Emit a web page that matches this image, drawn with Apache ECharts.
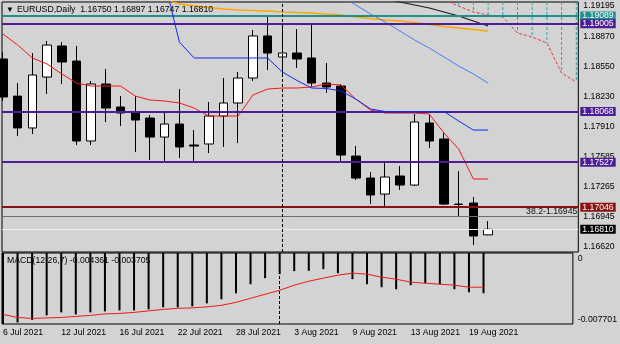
<!DOCTYPE html>
<html>
<head>
<meta charset="utf-8">
<script src="https://cdn.jsdelivr.net/npm/echarts@6.0.0/dist/echarts.min.js"></script>
<style>
html,body{margin:0;padding:0;background:#d3d3d3;}
#chart{width:620px;height:344px;}
</style>
</head>
<body>
<div id="chart"></div>
<script>
const symbolName = 'EURUSD';
const timeframe = 'Daily';
const dates = ['6 Jul 2021','7 Jul 2021','8 Jul 2021','9 Jul 2021','12 Jul 2021','13 Jul 2021','14 Jul 2021','15 Jul 2021','16 Jul 2021','19 Jul 2021','20 Jul 2021','21 Jul 2021','22 Jul 2021','23 Jul 2021','26 Jul 2021','27 Jul 2021','28 Jul 2021','29 Jul 2021','30 Jul 2021','2 Aug 2021','3 Aug 2021','4 Aug 2021','5 Aug 2021','6 Aug 2021','9 Aug 2021','10 Aug 2021','11 Aug 2021','12 Aug 2021','13 Aug 2021','16 Aug 2021','17 Aug 2021','18 Aug 2021','19 Aug 2021','20 Aug 2021','23 Aug 2021','24 Aug 2021','25 Aug 2021','26 Aug 2021','27 Aug 2021','30 Aug 2021'];

const openP  = [1.18629,1.18233,1.17892,1.18436,1.18768,1.18607,1.17753,1.18362,1.18116,1.18063,1.17998,1.17795,1.17934,1.17710,1.17721,1.18020,1.18159,1.18426,1.18875,1.18650,1.18693,1.18640,1.18372,1.18340,1.17592,1.17357,1.17186,1.17379,1.17282,1.17945,1.17774,1.17079,1.17090,1.16750];
const closeP = [1.18223,1.17892,1.18458,1.18778,1.18597,1.17753,1.18362,1.18105,1.18052,1.17977,1.17795,1.17934,1.17689,1.17699,1.18020,1.18159,1.18426,1.18875,1.18693,1.18693,1.18629,1.18372,1.18330,1.17603,1.17357,1.17176,1.17368,1.17282,1.17956,1.17753,1.17079,1.17075,1.16738,1.16810];
const highP  = [1.18700,1.18372,1.18693,1.18821,1.18810,1.18768,1.18394,1.18522,1.18233,1.18233,1.18030,1.18063,1.18308,1.17870,1.18169,1.18426,1.18490,1.18939,1.19088,1.18992,1.18949,1.19013,1.18586,1.18362,1.17699,1.17421,1.17518,1.17485,1.18041,1.18030,1.17838,1.17432,1.17154,1.16897];
const lowP   = [1.18180,1.17806,1.17827,1.18255,1.18362,1.17710,1.17710,1.17956,1.17913,1.17635,1.17550,1.17528,1.17571,1.17528,1.17624,1.17689,1.17731,1.18394,1.18511,1.18458,1.18533,1.18330,1.18266,1.17528,1.17336,1.17079,1.17047,1.17229,1.17272,1.17678,1.17069,1.16941,1.16641,1.16747];

const tenkan = [1.18896,1.18778,1.18640,1.18575,1.18469,1.18372,1.18340,1.18340,1.18340,1.18233,1.18191,1.18180,1.18159,1.18105,1.18020,1.18020,1.18020,1.18244,1.18308,1.18319,1.18319,1.18330,1.18362,1.18351,1.18201,1.18084,1.18052,1.18052,1.18052,1.18041,1.17838,1.17667,1.17347,1.17347];
const kijun  = [null,null,null,null,null,null,null,null,null,null,null,1.19452,1.18810,1.18640,1.18640,1.18640,1.18640,1.18640,1.18640,1.18490,1.18399,1.18319,1.18314,1.18287,1.18201,1.18095,1.18068,1.18068,1.18068,1.18068,1.18068,1.17966,1.17870,1.17870];
const maBlue   = [null,null,null,null,null,null,null,null,null,null,null,null,null,null,null,null,null,null,null,null,null,null,null,1.19302,1.19206,1.19110,1.19024,1.18928,1.18832,1.18746,1.18650,1.18554,1.18469,1.18372];
const maOrange = [null,null,null,null,null,null,null,null,null,null,null,1.19270,1.19216,1.19195,1.19179,1.19163,1.19152,1.19147,1.19142,1.19131,1.19126,1.19120,1.19110,1.19099,1.19078,1.19062,1.19046,1.19035,1.19019,1.18997,1.18976,1.18960,1.18944,1.18928];
const maBlack  = [null,null,null,null,null,null,null,null,null,null,null,null,null,null,null,null,null,null,null,null,null,null,null,null,null,null,1.19270,1.19238,1.19206,1.19174,1.19131,1.19088,1.19035,1.18981];
const senkouB  = [null,null,null,null,null,null,null,null,null,null,null,null,null,null,null,null,null,null,null,null,null,null,null,null,null,null,null,null,null,null,1.19259,1.19195,1.19131,1.19099,1.19078,1.18907,1.18864,1.18800,1.18479,1.18383];
const senkouA  = [null,null,null,null,null,null,null,null,null,null,null,null,null,null,null,null,null,null,null,null,null,null,null,null,null,null,null,null,null,null,null,1.19300,1.19300,1.19300,1.19300,1.19300,1.19300,1.19300,1.19300,1.19300];

const macdMain   = [-0.007701,-0.007535,-0.007262,-0.006770,-0.006443,-0.006661,-0.006443,-0.006334,-0.006224,-0.006224,-0.006115,-0.005897,-0.005897,-0.005788,-0.005460,-0.005023,-0.004368,-0.003385,-0.002730,-0.002293,-0.001966,-0.001933,-0.001747,-0.002184,-0.002839,-0.003385,-0.003713,-0.003931,-0.003494,-0.003276,-0.003385,-0.003931,-0.004260,-0.004361];
const macdSignal = [-0.006661,-0.006989,-0.007098,-0.007043,-0.006989,-0.006880,-0.006770,-0.006607,-0.006552,-0.006443,-0.006279,-0.006115,-0.006006,-0.005951,-0.005842,-0.005678,-0.005351,-0.004914,-0.004477,-0.004040,-0.003494,-0.003058,-0.002730,-0.002402,-0.002184,-0.002293,-0.002621,-0.002839,-0.003167,-0.003276,-0.003385,-0.003494,-0.003713,-0.003705];
const macdParams = [12, 26, 7];

const priceTicks = [1.16620,1.16945,1.17265,1.17585,1.17910,1.18230,1.18550,1.18870,1.19195];
const priceRange = [1.16567, 1.19238];
const macdTicks = [-0.007701, 0];
const levelPrices = [1.19089, 1.19005, 1.18068, 1.17527, 1.17046];
const levelKinds = ['teal','indigo','indigo','indigo','maroon'];
const fibRatio = ['38.2'];
const fibPrice = [1.16945];
const vlineDate = '2 Aug 2021';
const labelEvery = 4;

const FONT = '"Liberation Sans", Arial, sans-serif';
const FS = 8.7;
const levelColors = {teal:'#1f8f8f', indigo:'#4c1d95', maroon:'#8a1212'};
const nBars = openP.length;
const last = nBars - 1;
const xExtent = [-0.068, 39.136];
const vIdx = dates.indexOf(vlineDate);
const pts = arr => arr.map((v, i) => v == null ? null : [i, v]).filter(Boolean);
const dateLabelIdx = dates.map((d, i) => i).filter(i => i % labelEvery === 0 && i < nBars);

const boxLabel = (txt, bg) => ({
  show: true, position: 'end', distance: 2, formatter: txt,
  backgroundColor: bg, color: '#fff', padding: [1, 2, 0, 2], lineHeight: 8,
  fontSize: FS, fontFamily: FONT
});

const markBase = {silent: true, symbol: ['none', 'none'], animation: false, precision: 6};

const levelLines = levelPrices.map((p, k) => ({
  yAxis: p,
  lineStyle: {color: levelColors[levelKinds[k]], width: 2, type: 'solid'},
  label: boxLabel(p.toFixed(5), levelColors[levelKinds[k]])
}));
const fibLine = {
  yAxis: fibPrice[0],
  lineStyle: {color: '#6e6e6e', width: 1, type: 'solid'},
  label: {show: true, position: 'insideEndTop', distance: 1,
    formatter: fibRatio[0] + '-' + fibPrice[0].toFixed(5), color: '#111', fontSize: FS, fontFamily: FONT}
};
const bidLine = {
  yAxis: closeP[last],
  lineStyle: {color: '#efefef', width: 1, type: 'solid'},
  label: boxLabel(closeP[last].toFixed(5), '#000')
};
const vLine = {xAxis: vIdx, lineStyle: {color: '#000', width: 1, type: [3, 2]}, label: {show: false}};

function lineSeries(arr, color, width, dash, z) {
  return {type: 'line', xAxisIndex: 0, yAxisIndex: 0, data: pts(arr), symbol: 'none',
    showSymbol: false, silent: true, z: z || 3,
    lineStyle: {color: color, width: width, type: dash || 'solid'}};
}

const titleText = symbolName + ',' + timeframe + '  ' + openP[last].toFixed(5) + ' ' +
  highP[last].toFixed(5) + ' ' + lowP[last].toFixed(5) + ' ' + closeP[last].toFixed(5);
const macdText = 'MACD(' + macdParams.join(',') + ') ' + macdMain[last].toFixed(6) + ' ' + macdSignal[last].toFixed(6);

const hatchData = senkouA.map((a, i) => (a == null || senkouB[i] == null) ? null : [i, a, senkouB[i]]).filter(Boolean);

const chart = echarts.init(document.getElementById('chart'), null, {renderer: 'canvas'});
chart.setOption({
  animation: false,
  backgroundColor: '#d3d3d3',
  textStyle: {fontFamily: FONT},
  grid: [
    {left: 2, top: 2, width: 576.3, height: 250, show: true, borderColor: '#000', borderWidth: 1, backgroundColor: 'transparent'},
    {left: 2, top: 253, width: 576.3, height: 71, show: true, borderColor: '#000', borderWidth: 1, backgroundColor: 'transparent'}
  ],
  xAxis: [
    {type: 'value', gridIndex: 0, min: xExtent[0], max: xExtent[1], show: false},
    {type: 'value', gridIndex: 1, min: xExtent[0], max: xExtent[1],
      axisLine: {show: false}, splitLine: {show: false},
      axisTick: {show: true, length: 3, customValues: dateLabelIdx, lineStyle: {color: '#000'}},
      axisLabel: {customValues: dateLabelIdx, formatter: v => dates[Math.round(v)], align: 'left',
        margin: 4, color: '#000', fontSize: FS, fontFamily: FONT}}
  ],
  yAxis: [
    {type: 'value', gridIndex: 0, position: 'right', min: priceRange[0], max: priceRange[1],
      axisLine: {show: false}, splitLine: {show: false}, axisTick: {show: false},
      axisLabel: {customValues: priceTicks, formatter: v => v.toFixed(5), margin: 5,
        color: '#000', fontSize: FS, fontFamily: FONT}},
    {type: 'value', gridIndex: 1, position: 'right', min: macdTicks[0], max: macdTicks[1],
      axisLine: {show: false}, splitLine: {show: false}, axisTick: {show: false},
      axisLabel: {customValues: macdTicks, margin: 5, color: '#000',
        formatter: v => v === 0 ? '{t|0}' : '{b|' + v.toFixed(6) + '}',
        rich: {
          t: {padding: [11, 0, 0, 0], fontSize: FS, fontFamily: FONT, color: '#000'},
          b: {padding: [0, 0, 9, 0], fontSize: FS, fontFamily: FONT, color: '#000'}
        }}}
  ],
  graphic: [
    {type: 'text', left: 6, top: 6, z: 10, style: {text: '▼', font: '8px ' + FONT, fill: '#000'}},
    {type: 'text', left: 17, top: 5, z: 10, style: {text: titleText, font: FS + 'px ' + FONT, fill: '#000'}},
    {type: 'text', left: 7, top: 256, z: 0, style: {text: macdText, font: FS + 'px ' + FONT, fill: '#000'}}
  ],
  series: [
    {type: 'line', xAxisIndex: 0, yAxisIndex: 0, z: 1, silent: true,
      data: pts(closeP), symbol: 'none', showSymbol: false, lineStyle: {opacity: 0},
      markLine: Object.assign({}, markBase, {data: [fibLine, ...levelLines, bidLine, vLine]})},
    {type: 'candlestick', xAxisIndex: 0, yAxisIndex: 0, z: 2, barWidth: 9, silent: true,
      data: openP.map((o, i) => [i, o, closeP[i], lowP[i], highP[i]]),
      encode: {x: 0, y: [1, 2, 3, 4]},
      itemStyle: {color: '#ffffff', color0: '#000000', borderColor: '#000000', borderColor0: '#000000',
        borderColorDoji: '#000000', borderWidth: 1}},
    {type: 'custom', xAxisIndex: 0, yAxisIndex: 0, z: 3, silent: true,
      data: hatchData, encode: {x: 0, y: [1, 2]},
      renderItem: function (params, api) {
        const x = api.value(0);
        const a = api.coord([x, api.value(1)]);
        const b = api.coord([x, api.value(2)]);
        const top = params.coordSys.y;
        return {type: 'line', shape: {x1: a[0], y1: Math.max(a[1], top), x2: b[0], y2: b[1]},
          style: {stroke: '#2aa5a5', lineWidth: 1, lineDash: [3, 2]}};
      }},
    lineSeries(senkouB, '#d83c3c', 1, [3, 2]),
    lineSeries(maOrange, '#ffa500', 1.5),
    lineSeries(maBlack, '#1a1a1a', 1.2),
    lineSeries(maBlue, '#4a7cf0', 1),
    lineSeries(tenkan, '#f01818', 1, null, 4),
    lineSeries(kijun, '#1428f0', 1, null, 5),
    {type: 'bar', xAxisIndex: 1, yAxisIndex: 1, data: pts(macdMain), barWidth: 2, z: 2, silent: true,
      itemStyle: {color: '#000'},
      markLine: Object.assign({}, markBase, {data: [vLine]})},
    {type: 'line', xAxisIndex: 1, yAxisIndex: 1, data: pts(macdSignal), symbol: 'none', showSymbol: false,
      z: 3, silent: true, lineStyle: {color: '#f01818', width: 1}}
  ]
});
</script>
</body>
</html>
